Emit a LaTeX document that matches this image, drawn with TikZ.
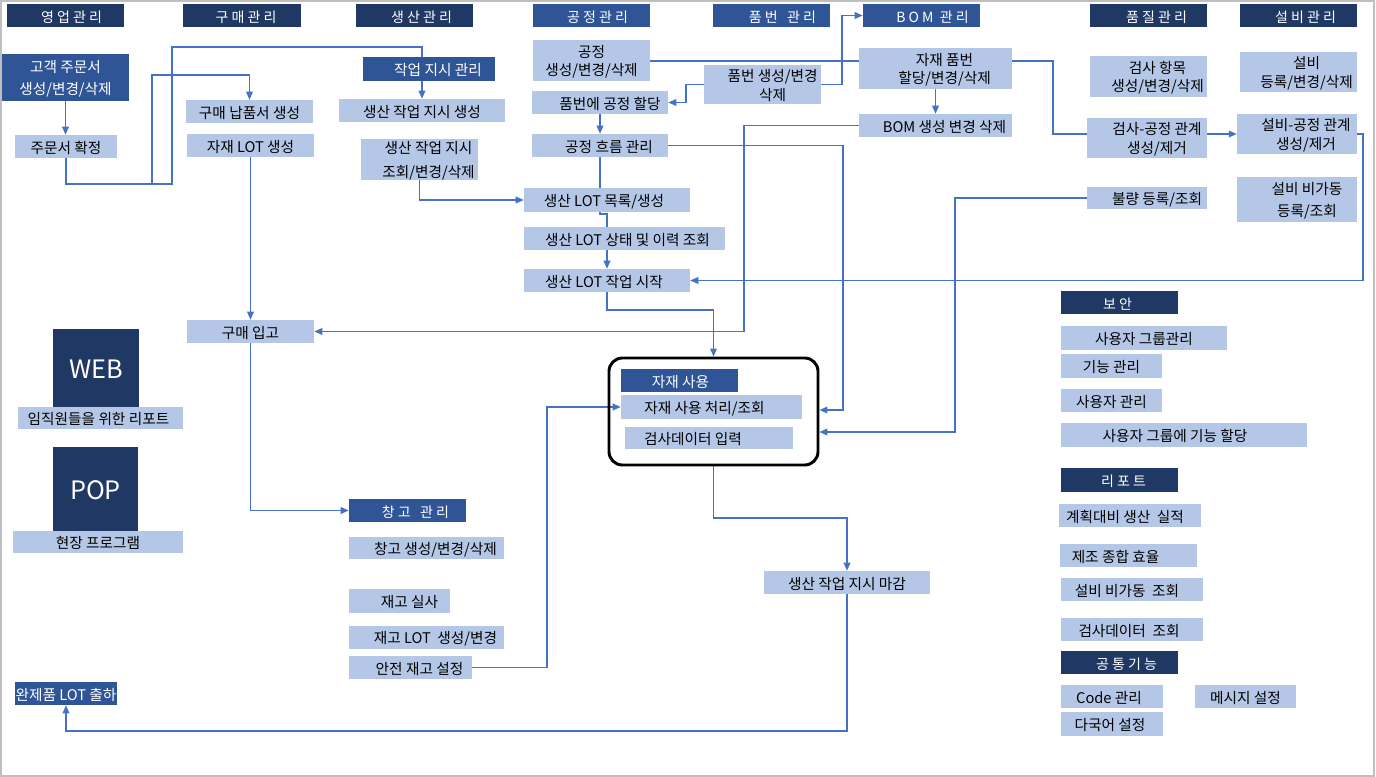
\documentclass[tikz,border=0pt]{standalone}
\usepackage{fontspec}
\newfontfamily\kr{Noto Sans CJK KR}
\usetikzlibrary{arrows.meta}
\definecolor{navy}{RGB}{32,56,100}
\definecolor{midblue}{RGB}{47,85,151}
\definecolor{pale}{RGB}{180,199,231}
\definecolor{wire}{RGB}{68,114,196}
\pgfdeclarelayer{bg}\pgfsetlayers{bg,main}

\tikzset{
  boxbase/.style={rectangle, inner sep=0pt, draw=none},
  lbl/.style={font=\kr\fontsize{11}{14}\selectfont, align=center, inner sep=0pt, text=black, yshift=-1pt},
  wt/.style={text=white},
  bk/.style={text=black},
  hd/.style={text=white, font=\kr\fontsize{10.5}{13.5}\selectfont},
  big/.style={text=white, font=\kr\fontsize{19}{22}\selectfont},
  ln/.style={draw=wire, line width=1pt},
  arr/.style={ln, -{Triangle[length=6pt,width=5pt]}},
  usebox/.style={draw=black, line width=2.2pt, rounded corners=10pt, inner sep=0pt},
}

% \bx{name}{x1}{y1}{x2}{y2}{fill}{text style}{text shift}{text}
\newcommand\bx[9]{%
  \node[boxbase, fill=#6, minimum width={(#4-#2)*0.75pt}, minimum height={(#5-#3)*0.75pt}]
    (#1) at ({(#2+#4)/2},{(#3+#5)/2}) {};
  \node[lbl, #7, xshift={#8*0.75pt}] (#1-t) at (#1.center) {#9};}

\begin{document}
\begin{tikzpicture}[x=0.75pt,y=-0.75pt]
\useasboundingbox (0,0) rectangle (1376,777);

% ---- module headers
\bx{hSales}{7}{4}{124}{27}{navy}{hd}{6}{영 업 관 리}
\bx{hBuy}{183}{4}{301}{27}{navy}{hd}{4}{구 매 관 리}
\bx{hProd}{356}{4}{473}{27}{navy}{hd}{7}{생 산 관 리}
\bx{hProc}{533}{4}{650}{27}{midblue}{hd}{6}{공 정 관 리}
\bx{hPart}{713}{4}{830}{27}{midblue}{hd}{11}{품 번 \ \ 관 리}
\bx{hBom}{863}{4}{980}{27}{midblue}{hd}{11}{B O M \ 관 리}
\bx{hQual}{1090}{4}{1207}{27}{navy}{hd}{8}{품 질 관 리}
\bx{hEq}{1240}{4}{1357}{27}{navy}{hd}{7}{설 비 관 리}

% ---- sales
\bx{cust}{2}{54}{129}{101}{midblue}{wt}{0}{고객 주문서\\[3pt]생성/변경/삭제}
\bx{ordfix}{15}{135}{117}{158}{pale}{bk}{0}{주문서 확정}

% ---- purchasing
\bx{buy}{186}{100}{313}{123}{pale}{bk}{0}{구매 납품서 생성}
\bx{lotgen}{187}{134}{314}{157}{pale}{bk}{0}{자재 LOT 생성}
\bx{recv}{187}{320}{314}{343}{pale}{bk}{0}{구매 입고}

% ---- production orders
\bx{wohdr}{363}{57}{495}{81}{midblue}{wt}{9}{작업 지시 관리}
\bx{wogen}{339}{99}{505}{122}{pale}{bk}{0}{생산 작업 지시 생성}
\bx{woq}{361}{139}{478}{180}{pale}{bk}{9}{생산 작업 지시\\[4pt]조회/변경/삭제}

% ---- process / part / BOM
\bx{proc}{533}{40}{650}{81}{pale}{bk}{0}{공정\\생성/변경/삭제}
\bx{pn}{704}{65}{821}{104}{pale}{bk}{10}{품번 생성/변경\\삭제}
\bx{assign}{532}{91}{668}{114}{pale}{bk}{10}{품번에 공정 할당}
\bx{flow}{532}{134}{668}{157}{pale}{bk}{9}{공정 흐름 관리}
\bx{matpn}{859}{48}{1012}{89}{pale}{bk}{9}{자재 품번\\할당/변경/삭제}
\bx{bom}{859}{114}{1012}{137}{pale}{bk}{9}{BOM 생성 변경 삭제}

% ---- quality / equipment
\bx{qitem}{1090}{56}{1207}{97}{pale}{bk}{9}{검사 항목\\생성/변경/삭제}
\bx{eqreg}{1240}{52}{1357}{92}{pale}{bk}{8}{설비\\등록/변경/삭제}
\bx{qrel}{1087}{118}{1207}{158}{pale}{bk}{10}{검사-공정 관계\\생성/제거}
\bx{erel}{1237}{114}{1357}{154}{pale}{bk}{9}{설비-공정 관계\\생성/제거}
\bx{defect}{1087}{187}{1207}{209}{pale}{bk}{10}{불량 등록/조회}
\bx{eqdown}{1237}{177}{1357}{222}{pale}{bk}{10}{설비 비가동\\[2pt]등록/조회}

% ---- production LOT
\bx{lotlist}{524}{188}{690}{212}{pale}{bk}{-3}{생산 LOT 목록/생성}
\bx{lotstat}{524}{227}{725}{250}{pale}{bk}{3}{생산 LOT 상태 및 이력 조회}
\bx{lotstart}{524}{269}{690}{292}{pale}{bk}{-3}{생산 LOT 작업 시작}

% ---- material usage group
\node[usebox, minimum width={(818-609)*0.75pt}, minimum height={(465-358)*0.75pt}]
  (frame) at ({(609+818)/2},{(358+465)/2}) {};
\bx{mathdr}{621}{369}{738}{392}{midblue}{wt}{1}{자재 사용}
\bx{matproc}{621}{395}{802}{419}{pale}{bk}{-7}{자재 사용 처리/조회}
\bx{inspin}{625}{427}{793}{449}{pale}{bk}{-16}{검사데이터 입력}

% ---- clients
\bx{web}{53}{329}{139}{407}{navy}{big}{0}{WEB}
\bx{webrep}{18}{407}{183}{429}{pale}{bk}{-2}{임직원들을 위한 리포트}
\bx{pop}{53}{447}{138}{531}{navy}{big}{0}{POP}
\bx{poprep}{13}{531}{183}{553}{pale}{bk}{0}{현장 프로그램}

% ---- warehouse
\bx{whhdr}{349}{499}{466}{522}{midblue}{hd}{8}{창 고 \ \ 관 리}
\bx{whgen}{349}{537}{504}{559}{pale}{bk}{9}{창고 생성/변경/삭제}
\bx{stock}{349}{589}{450}{613}{pale}{bk}{10}{재고 실사}
\bx{stocklot}{349}{626}{504}{649}{pale}{bk}{9}{재고 LOT \ 생성/변경}
\bx{safety}{349}{656}{472}{679}{pale}{bk}{9}{안전 재고 설정}

\bx{close}{764}{571}{930}{594}{pale}{bk}{0}{생산 작업 지시 마감}
\bx{ship}{15}{682}{117}{705}{midblue}{wt}{0}{완제품 LOT 출하}

% ---- security / reports / common
\bx{hSec}{1061}{291}{1178}{314}{navy}{hd}{-2}{보 안}
\bx{ugrp}{1061}{326}{1227}{350}{pale}{bk}{0}{사용자 그룹관리}
\bx{func}{1061}{354}{1162}{378}{pale}{bk}{0}{기능 관리}
\bx{user}{1061}{389}{1162}{412}{pale}{bk}{0}{사용자 관리}
\bx{ufunc}{1061}{423}{1307}{447}{pale}{bk}{-9}{사용자 그룹에 기능 할당}
\bx{hRep}{1061}{468}{1178}{492}{navy}{hd}{4}{리 포 트}
\bx{plan}{1059}{504}{1201}{527}{pale}{bk}{-5}{계획대비 생산 \ 실적}
\bx{oee}{1060}{544}{1197}{567}{pale}{bk}{-13}{제조 종합 효율}
\bx{eqdq}{1061}{578}{1203}{601}{pale}{bk}{-5}{설비 비가동 \ 조회}
\bx{inspq}{1061}{618}{1203}{641}{pale}{bk}{-3}{검사데이터 \ 조회}
\bx{hCom}{1061}{651}{1178}{674}{navy}{hd}{7}{공 통 기 능}
\bx{code}{1061}{685}{1163}{708}{pale}{bk}{-3}{Code 관리}
\bx{msg}{1195}{685}{1296}{708}{pale}{bk}{0}{메시지 설정}
\bx{lang}{1061}{712}{1163}{736}{pale}{bk}{-2}{다국어 설정}

% ---- page frame
\draw[black!25, line width=1.2pt] (1,1) rectangle (1374,776);

% ---- connectors, behind the boxes
\begin{pgfonlayer}{bg}
\fill[white] (0,0) rectangle (1376,777);
\draw[arr] (cust.south) -- (cust.south |- ordfix.north);
\draw[arr] (ordfix.south) |- (152,184) -- (152,75) -| (buy.north);
\draw[arr] (ordfix.south) |- (172,184) -- (172,47) -| (wogen.north);
\draw[arr] (lotgen.south) -- (recv.north);
\draw[arr] (recv.south) |- (whhdr.west);
\draw[arr] (woq.south) |- (lotlist.west);
\draw[ln]  (proc.east |- 0,61) -- (1053,61) |- (qrel.west |- 0,134);
\draw[arr] (qrel.east |- 0,134) -- (erel.west |- 0,134);
\draw[arr] (erel.east |- 0,134) -- (1363,134) |- (lotstart.east);
\draw[arr] (pn.west) -- (pn.west -| 686,0) |- (assign.east);
\draw[arr] (pn.east) -- (pn.east -| 842,0) |- (hBom.west);
\draw[arr] (matpn.south) -- (bom.north);
\draw[arr] (bom.west) -- (bom.west -| 744,0) |- (recv.east);
\draw[arr] (assign.south) -- (flow.north);
\draw[arr] (flow.east) -- (flow.east -| 843,0) |- (frame.east |- 0,410);
\draw[ln]  (flow.south) -- (flow.south |- lotlist.north);
\draw[arr] (flow.south |- lotlist.south) -- (600,214) -| (lotstart.north);
\draw[arr] (lotstart.south) -- (lotstart.south |- 0,310) -| (frame.north);
\draw[arr] (defect.west) -- (defect.west -| 955,0) |- (frame.east |- 0,432);
\draw[arr] (safety.east) -- (safety.east -| 547,0) |- (matproc.west);
\draw[arr] (frame.south) -- (frame.south |- 0,518) -| (close.north);
\draw[arr] (close.south) -- (close.south |- 0,731) -| (ship.south);
\end{pgfonlayer}
\end{tikzpicture}
\end{document}
